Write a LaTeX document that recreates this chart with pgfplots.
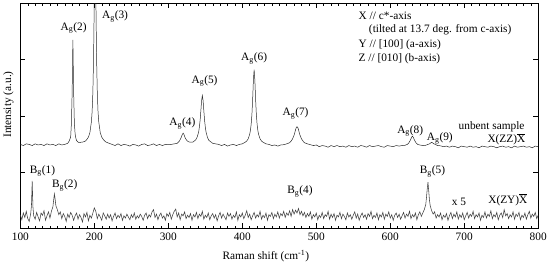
\documentclass[border=0pt]{standalone}
\usepackage{fontspec}
\setmainfont{Liberation Serif}
\usepackage{pgfplots}
\pgfplotsset{compat=1.18}
\newcommand{\Xb}{$\overline{\hbox{X}}$}
\begin{document}
\begin{tikzpicture}
\begin{axis}[
  scale only axis, width=525pt, height=228pt,
  xmin=100, xmax=800, ymin=0, ymax=4,
  xtick={100,200,...,800}, minor x tick num=9,
  ytick={0,1,2,3,4}, yticklabels={},
  tick align=inside, major tick length=5pt, minor tick length=2.5pt,
  tick style={black, line width=0.4pt},
  axis line style={black, line width=0.5pt},
  /pgf/number format/assume math mode=true,
  xticklabel style={font=\fontsize{11.5}{13}\selectfont, yshift=-1pt},
  xlabel={Raman shift (cm\textsuperscript{-1})},
  xlabel style={at={(axis description cs:0.474,-0.125)}, anchor=center, font=\fontsize{11.5}{13}\selectfont},
  ylabel={Intensity (a.u.)},
  ylabel style={at={(axis description cs:-0.023,0.55)}, anchor=center, font=\fontsize{11.5}{13}\selectfont},
  clip=true,
]
% upper spectrum X(ZZ)Xbar
\addplot[black!85, line width=0.5pt] coordinates {
(100,1.49)(104,1.47)(108,1.50)(112,1.49)(116,1.47)(120,1.50)(124,1.48)(128,1.49)(132,1.47)(136,1.50)
(140,1.48)(144,1.49)(148,1.47)(152,1.50)(156,1.48)(160,1.49)(162,1.50)(164,1.51)(166,1.55)(168,1.62)
(169,1.86)(170,2.42)(171,3.35)(172,2.43)(173,1.87)(174,1.68)(175,1.60)(176,1.56)(178,1.53)(180,1.52)
(182,1.53)(184,1.53)(186,1.54)(188,1.55)(190,1.58)(192,1.62)(194,1.70)(196,1.89)(197,2.07)(198,2.41)
(199,3.05)(200,4.15)(201,4.98)(202,4.15)(203,3.05)(204,2.41)(205,2.07)(206,1.89)(208,1.70)(210,1.62)
(212,1.58)(214,1.55)(216,1.53)(218,1.52)(220,1.51)(224,1.49)(228,1.47)(232,1.50)(236,1.47)(240,1.49)
(244,1.48)(248,1.46)(252,1.49)(256,1.48)(260,1.46)(264,1.49)(268,1.50)(272,1.47)(276,1.48)(280,1.50)
(284,1.47)(288,1.49)(292,1.47)(296,1.49)(300,1.485)(304,1.49)(308,1.50)(312,1.51)(315,1.55)(317,1.60)
(319,1.67)(320,1.69)(321,1.67)(323,1.60)(325,1.56)(327,1.54)(329,1.53)(331,1.53)(333,1.53)(335,1.55)
(337,1.57)(339,1.62)(341,1.71)(342,1.80)(343,1.92)(344,2.09)(345,2.27)(346,2.36)(347,2.27)(348,2.09)
(349,1.92)(350,1.80)(351,1.71)(353,1.61)(355,1.56)(357,1.54)(360,1.51)(364,1.50)(368,1.49)(372,1.47)
(376,1.49)(380,1.46)(384,1.48)(388,1.49)(392,1.47)(396,1.49)(400,1.50)(404,1.53)(406,1.55)(408,1.59)
(410,1.67)(411,1.74)(412,1.85)(413,2.02)(414,2.29)(415,2.63)(416,2.82)(417,2.63)(418,2.29)(419,2.02)
(420,1.85)(421,1.74)(422,1.67)(424,1.59)(426,1.55)(428,1.53)(432,1.50)(436,1.49)(440,1.47)(444,1.48)
(448,1.46)(452,1.48)(456,1.485)(460,1.50)(464,1.52)(466,1.55)(468,1.59)(470,1.655)(471,1.70)(472,1.75)
(473,1.79)(474,1.805)(475,1.79)(476,1.75)(477,1.70)(478,1.655)(480,1.59)(482,1.55)(484,1.52)(488,1.50)
(492,1.485)(496,1.47)(500,1.48)(504,1.45)(508,1.47)(512,1.46)(516,1.44)(520,1.47)(524,1.45)(528,1.47)
(532,1.45)(536,1.46)(540,1.44)(544,1.47)(548,1.45)(552,1.46)(556,1.44)(560,1.47)(564,1.46)(568,1.44)
(572,1.47)(576,1.45)(580,1.46)(584,1.47)(588,1.45)(592,1.44)(596,1.47)(600,1.46)(604,1.45)(608,1.47)
(612,1.46)(616,1.47)(620,1.475)(623,1.49)(625,1.515)(627,1.56)(628,1.59)(629,1.62)(630,1.635)(631,1.62)
(632,1.59)(633,1.56)(635,1.515)(637,1.49)(640,1.48)(644,1.47)(648,1.475)(651,1.49)(653,1.50)(655,1.52)
(656,1.525)(657,1.52)(659,1.50)(661,1.49)(664,1.47)(668,1.465)(672,1.45)(676,1.46)(680,1.44)(684,1.46)
(688,1.45)(692,1.43)(696,1.46)(700,1.45)(704,1.44)(708,1.46)(712,1.44)(716,1.45)(720,1.43)(724,1.46)
(728,1.45)(732,1.44)(736,1.46)(740,1.45)(744,1.43)(748,1.45)(752,1.46)(756,1.44)(760,1.45)(764,1.43)
(768,1.46)(772,1.44)(776,1.45)(780,1.46)(784,1.44)(788,1.45)(792,1.43)(796,1.46)(800,1.45)
};
% lower spectrum X(ZY)Xbar x5
\addplot[black!75, line width=0.55pt] coordinates {
(100,0.24)(102,0.15)(104,0.27)(106,0.19)(108,0.30)(110,0.17)(112,0.12)(114,0.26)(115,0.40)(116,0.84)
(117,0.38)(118,0.22)(120,0.16)(122,0.28)(124,0.20)(126,0.13)(128,0.27)(130,0.23)(132,0.31)(134,0.14)
(136,0.22)(138,0.29)(140,0.18)(142,0.30)(144,0.38)(145,0.50)(146,0.61)(147,0.52)(148,0.40)(150,0.33)
(152,0.24)(154,0.29)(156,0.17)(158,0.26)(160,0.21)(162,0.12)(164,0.25)(166,0.19)(168,0.28)(170,0.23)
(172,0.14)(174,0.22)(176,0.27)(178,0.16)(180,0.24)(182,0.19)(184,0.11)(186,0.26)(188,0.20)(190,0.28)
(192,0.13)(194,0.23)(196,0.18)(198,0.27)(200,0.36)(202,0.30)(204,0.17)(206,0.25)(208,0.20)(210,0.14)
(212,0.27)(214,0.22)(216,0.16)(218,0.25)(220,0.18)(222,0.24)(224,0.13)(226,0.21)(228,0.27)(230,0.17)
(232,0.23)(234,0.19)(236,0.26)(238,0.14)(240,0.22)(242,0.18)(244,0.25)(246,0.20)(248,0.15)(250,0.24)
(252,0.19)(254,0.27)(256,0.16)(258,0.22)(260,0.18)(262,0.25)(264,0.21)(266,0.14)(268,0.23)(270,0.27)
(272,0.17)(274,0.24)(276,0.20)(278,0.29)(280,0.33)(282,0.19)(284,0.25)(286,0.15)(288,0.23)(290,0.27)
(292,0.18)(294,0.22)(296,0.14)(298,0.26)(300,0.21)(302,0.28)(304,0.16)(306,0.24)(308,0.30)(310,0.34)
(312,0.20)(314,0.27)(316,0.15)(318,0.25)(320,0.22)(322,0.29)(324,0.17)(326,0.23)(328,0.19)(330,0.26)
(332,0.14)(334,0.24)(336,0.20)(338,0.28)(340,0.17)(342,0.25)(344,0.21)(346,0.30)(348,0.16)(350,0.23)
(352,0.19)(354,0.27)(356,0.15)(358,0.22)(360,0.26)(362,0.18)(364,0.24)(366,0.13)(368,0.22)(370,0.28)
(372,0.18)(374,0.25)(376,0.20)(378,0.15)(380,0.27)(382,0.21)(384,0.26)(386,0.16)(388,0.23)(390,0.19)
(392,0.29)(394,0.14)(396,0.24)(398,0.20)(400,0.27)(402,0.17)(404,0.23)(406,0.31)(408,0.19)(410,0.25)
(412,0.15)(414,0.22)(416,0.28)(418,0.18)(420,0.24)(422,0.20)(424,0.30)(426,0.16)(428,0.23)(430,0.19)
(432,0.27)(434,0.14)(436,0.24)(438,0.21)(440,0.28)(442,0.17)(444,0.25)(446,0.20)(448,0.29)(450,0.18)
(452,0.26)(454,0.22)(456,0.30)(458,0.19)(460,0.27)(462,0.23)(464,0.31)(466,0.21)(468,0.33)(470,0.25)
(472,0.32)(474,0.27)(476,0.35)(478,0.24)(480,0.30)(482,0.22)(484,0.28)(486,0.19)(488,0.26)(490,0.21)
(492,0.29)(494,0.16)(496,0.24)(498,0.20)(500,0.27)(502,0.15)(504,0.23)(506,0.19)(508,0.28)(510,0.17)
(512,0.24)(514,0.21)(516,0.30)(518,0.16)(520,0.25)(522,0.19)(524,0.26)(526,0.14)(528,0.23)(530,0.20)
(532,0.28)(534,0.17)(536,0.25)(538,0.21)(540,0.15)(542,0.27)(544,0.20)(546,0.24)(548,0.16)(550,0.23)
(552,0.29)(554,0.18)(556,0.25)(558,0.14)(560,0.22)(562,0.27)(564,0.19)(566,0.24)(568,0.16)(570,0.26)
(572,0.21)(574,0.30)(576,0.17)(578,0.23)(580,0.19)(582,0.27)(584,0.15)(586,0.24)(588,0.20)(590,0.28)
(592,0.16)(594,0.25)(596,0.21)(598,0.29)(600,0.18)(602,0.24)(604,0.14)(606,0.23)(608,0.27)(610,0.19)
(612,0.25)(614,0.16)(616,0.22)(618,0.28)(620,0.18)(622,0.25)(624,0.21)(626,0.30)(628,0.17)(630,0.24)
(632,0.20)(634,0.27)(636,0.15)(638,0.24)(640,0.29)(642,0.21)(644,0.27)(646,0.33)(648,0.42)(649,0.55)
(650,0.70)(651,0.82)(652,0.66)(653,0.50)(654,0.40)(656,0.31)(658,0.25)(660,0.29)(662,0.18)(664,0.24)
(666,0.20)(668,0.27)(670,0.15)(672,0.23)(674,0.19)(676,0.26)(678,0.14)(680,0.22)(682,0.28)(684,0.17)
(686,0.25)(688,0.20)(690,0.29)(692,0.16)(694,0.24)(696,0.19)(698,0.27)(700,0.15)(702,0.22)(704,0.28)
(706,0.18)(708,0.25)(710,0.21)(712,0.30)(714,0.17)(716,0.24)(718,0.20)(720,0.27)(722,0.14)(724,0.23)
(726,0.19)(728,0.29)(730,0.18)(732,0.25)(734,0.21)(736,0.31)(738,0.17)(740,0.24)(742,0.20)(744,0.28)
(746,0.15)(748,0.23)(750,0.27)(752,0.19)(754,0.33)(756,0.22)(758,0.26)(760,0.17)(762,0.24)(764,0.20)
(766,0.29)(768,0.16)(770,0.25)(772,0.21)(774,0.28)(776,0.15)(778,0.23)(780,0.19)(782,0.27)(784,0.16)
(786,0.24)(788,0.30)(790,0.18)(792,0.25)(794,0.21)(796,0.28)(798,0.17)(800,0.23)
};
% peak labels
\begin{scope}[every node/.style={font=\fontsize{11.5}{13}\selectfont, inner sep=0pt}]
\node at (axis cs:172,3.56) {A\textsubscript{g}(2)};
\node at (axis cs:228,3.77) {A\textsubscript{g}(3)};
\node at (axis cs:319,1.86) {A\textsubscript{g}(4)};
\node at (axis cs:349,2.62) {A\textsubscript{g}(5)};
\node at (axis cs:416,3.02) {A\textsubscript{g}(6)};
\node at (axis cs:472,2.04) {A\textsubscript{g}(7)};
\node at (axis cs:627,1.73) {A\textsubscript{g}(8)};
\node at (axis cs:667,1.59) {A\textsubscript{g}(9)};
\node at (axis cs:737,1.80) {unbent sample};
\node at (axis cs:757,1.58) {X(ZZ)\Xb};
\node at (axis cs:130,1.02) {B\textsubscript{g}(1)};
\node at (axis cs:160,0.76) {B\textsubscript{g}(2)};
\node at (axis cs:478,0.66) {B\textsubscript{g}(4)};
\node at (axis cs:657,1.01) {B\textsubscript{g}(5)};
\node at (axis cs:693,0.46) {x 5};
\node at (axis cs:759,0.51) {X(ZY)\Xb};
\node[anchor=west] at (axis cs:557,3.77) {X // c*-axis};
\node[anchor=west] at (axis cs:571,3.53) {(tilted at 13.7 deg. from c-axis)};
\node[anchor=west] at (axis cs:557,3.27) {Y // [100] (a-axis)};
\node[anchor=west] at (axis cs:557,3.02) {Z // [010] (b-axis)};
\end{scope}
\end{axis}
\end{tikzpicture}
\end{document}
